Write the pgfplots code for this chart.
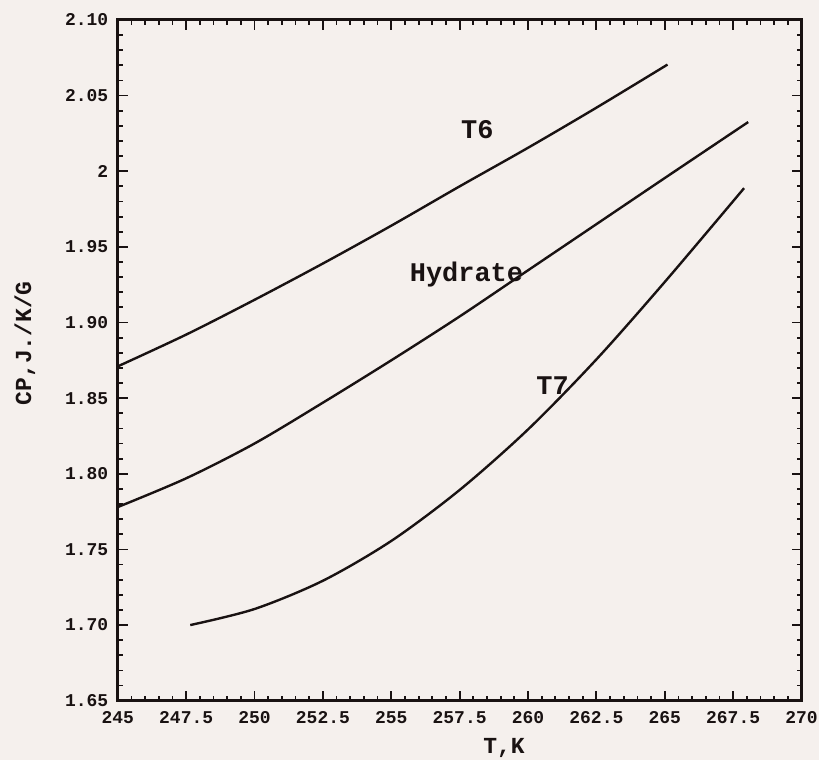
\documentclass[border=0pt]{standalone}
\usepackage{fontspec}
\setmainfont{Liberation Mono}
\usepackage{pgfplots}
\pgfplotsset{compat=1.18}
\definecolor{bg}{RGB}{245,240,237}
\definecolor{ink}{RGB}{25,18,18}
\pgfplotstableread{
x y
245 1.871
247.5 1.892
250 1.915
252.5 1.939
255 1.964
257.5 1.990
260 2.0155
262.5 2.042
265.1 2.0705
}\tsix
\pgfplotstableread{
x y
245 1.778
247.5 1.797
250 1.820
252.5 1.847
255 1.875
257.5 1.904
260 1.9345
262.5 1.965
265 1.9955
268.05 2.0325
}\hyd
\pgfplotstableread{
x y
247.65 1.700
250 1.7106
252.5 1.7293
255 1.7556
257.5 1.7893
260 1.8293
262.5 1.8756
265 1.9268
267.9 1.9888
}\tseven
\begin{document}
\begin{tikzpicture}
\fill[bg] (-118pt,-59pt) rectangle (703pt,702pt);
\begin{axis}[
  at={(0,0)}, anchor=south west,
  scale only axis, width=685pt, height=682pt,
  xmin=245, xmax=270, ymin=1.65, ymax=2.10,
  axis line style={line width=3pt, color=ink},
  xtick={245,247.5,250,252.5,255,257.5,260,262.5,265,267.5,270},
  xticklabels={245,247.5,250,252.5,255,257.5,260,262.5,265,267.5,270},
  ytick={1.65,1.70,1.75,1.80,1.85,1.90,1.95,2.00,2.05,2.10},
  yticklabels={1.65,1.70,1.75,1.80,1.85,1.90,1.95,2,2.05,2.10},
  minor x tick num=4, minor y tick num=4,
  tick align=inside,
  major tick length=10pt, minor tick length=5pt,
  every tick/.style={line width=1.8pt, color=ink},
  ticklabel style={font=\bfseries\fontsize{18}{18}\selectfont, color=ink},
  xticklabel style={yshift=-7pt},
  yticklabel style={xshift=-6pt},
  xlabel={T,K}, ylabel={CP,J./K/G},
  label style={font=\bfseries\fontsize{23}{23}\selectfont, color=ink},
  xlabel style={at={(axis description cs:0.565,0)}, anchor=center, yshift=-47pt},
  ylabel style={at={(axis description cs:-0.136,0.525)}, anchor=center},
  clip=false,
]
\addplot[line width=2.4pt, color=ink, smooth] table[x=x,y=y] {\tsix};
\addplot[line width=2.4pt, color=ink, smooth] table[x=x,y=y] {\hyd};
\addplot[line width=2.4pt, color=ink, smooth] table[x=x,y=y] {\tseven};
\node[font=\bfseries\fontsize{27}{27}\selectfont, color=ink] at (axis cs:258.15,2.0276) {T6};
\node[font=\bfseries\fontsize{27}{27}\selectfont, color=ink] at (axis cs:257.75,1.932) {Hydrate};
\node[font=\bfseries\fontsize{27}{27}\selectfont, color=ink] at (axis cs:260.9,1.858) {T7};
\end{axis}
\end{tikzpicture}
\end{document}
